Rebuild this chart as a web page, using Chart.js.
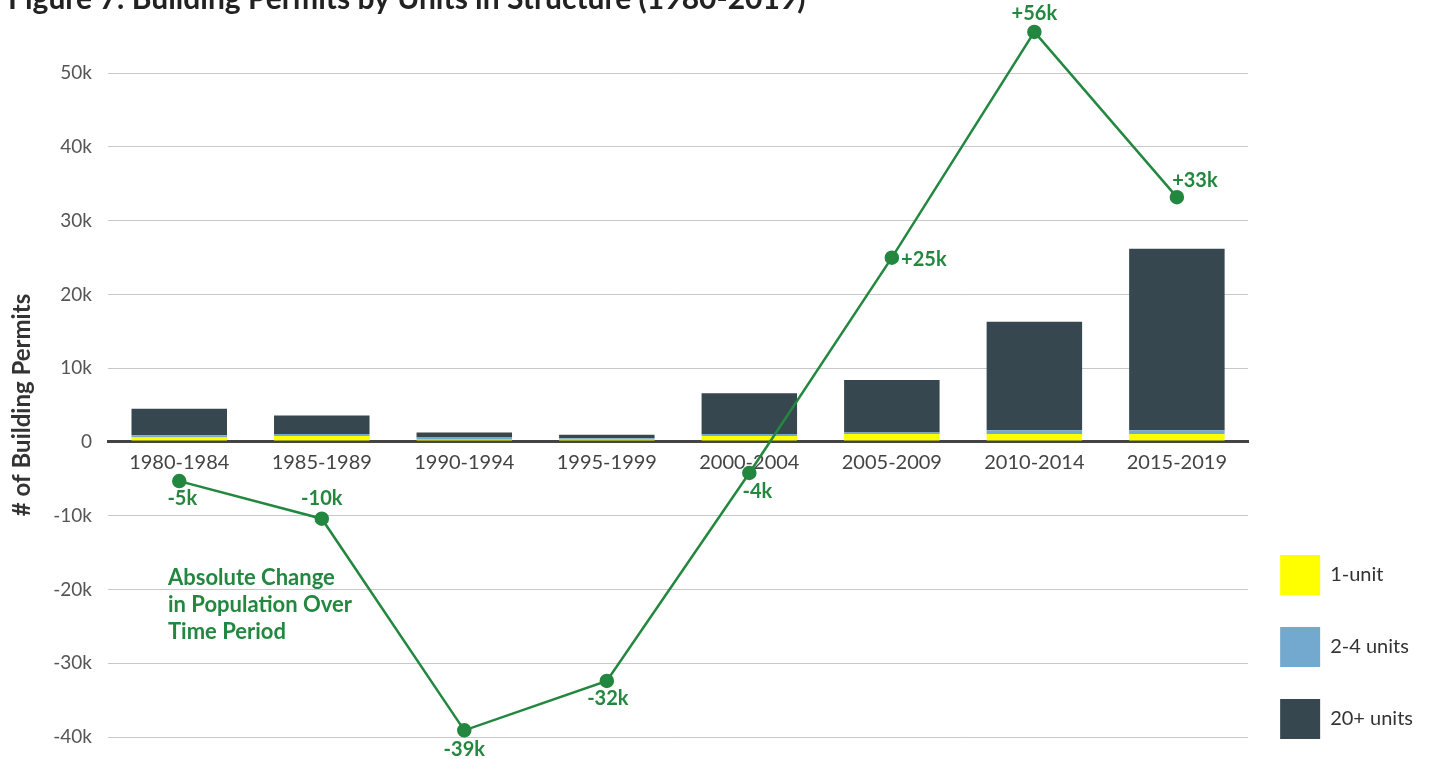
<!DOCTYPE html>
<html>
<head>
<meta charset="utf-8">
<script src="https://cdn.jsdelivr.net/npm/chart.js@4.4.1/dist/chart.umd.min.js"></script>
<style>
  html, body { margin: 0; padding: 0; background: #fff; }
  #wrap { width: 1447px; height: 759px; position: relative; }
</style>
</head>
<body>
<div id="wrap"><canvas id="chart" width="1447" height="759"></canvas></div>
<script>
// data
const periods = ['1980-1984', '1985-1989', '1990-1994', '1995-1999', '2000-2004', '2005-2009', '2010-2014', '2015-2019']
const oneUnit = [600, 800, 300, 300, 800, 1100, 1100, 1100]
const twoToFour = [300, 300, 300, 200, 300, 200, 500, 500]
const twentyPlus = [3600, 2500, 700, 500, 5500, 7100, 14700, 24600]
const popChange = [-5300, -10400, -39100, -32400, -4200, 25000, 55600, 33200]
const yTicks = [-40000, -30000, -20000, -10000, 0, 10000, 20000, 30000, 40000, 50000]

const green = '#23873f'
const fontFam = 'Lato, "Open Sans", sans-serif'

const kLabel = v => v === 0 ? '0' : (v / 1000) + 'k'
const changeLabel = v => (v > 0 ? '+' : '') + Math.round(v / 1000) + 'k'

// extra text drawn on the canvas: title, axis title, annotation, point labels
const labelOffsets = [[3, 17], [0, -20], [0, 19], [1, 18], [8, 19], [32, 2], [0, -18], [18, -17]]
const extras = {
  id: 'extras',
  afterLayout(chart) {
    // push the legend down so it sits at the bottom right like the source
    const lg = chart.legend
    lg.top += 34
    lg.bottom += 34
  },
  afterDatasetsDraw(chart) {
    const ctx = chart.ctx
    const area = chart.chartArea
    ctx.save()
    // figure title, cut by the top edge like the source
    ctx.fillStyle = '#222'
    ctx.font = 'bold 30px ' + fontFam
    ctx.textAlign = 'left'
    ctx.textBaseline = 'alphabetic'
    ctx.fillText('Figure 7: Building Permits by Units in Structure (1980-2019)', 8, 9)

    // y axis title
    ctx.save()
    ctx.translate(22, 405)
    ctx.rotate(-Math.PI / 2)
    ctx.textAlign = 'center'
    ctx.textBaseline = 'middle'
    ctx.font = 'bold 24px ' + fontFam
    ctx.fillStyle = '#333'
    ctx.fillText('# of Building Permits', 0, 0)
    ctx.restore()

    // annotation for the line
    ctx.fillStyle = green
    ctx.font = 'bold 22px ' + fontFam
    ctx.textAlign = 'left'
    ctx.textBaseline = 'middle'
    const y0 = chart.scales.y.getPixelForValue(-18400)
    ;['Absolute Change', 'in Population Over', 'Time Period'].forEach((t, i) => {
      ctx.fillText(t, area.left + 60, y0 + i * 27)
    })

    // point labels
    const meta = chart.getDatasetMeta(3)
    ctx.font = 'bold 20px ' + fontFam
    ctx.textAlign = 'center'
    meta.data.forEach((pt, i) => {
      const [dx, dy] = labelOffsets[i]
      ctx.fillText(changeLabel(popChange[i]), pt.x + dx, pt.y + dy)
    })
    ctx.restore()
  }
}

new Chart(document.getElementById('chart'), {
  type: 'bar',
  data: {
    labels: periods,
    datasets: [
      { label: '1-unit', data: oneUnit, backgroundColor: '#ffff00', order: 1 },
      { label: '2-4 units', data: twoToFour, backgroundColor: '#74a9cf', order: 1 },
      { label: '20+ units', data: twentyPlus, backgroundColor: '#37474f', order: 1 },
      {
        type: 'line', label: 'change', data: popChange, stack: 'line', order: 0,
        borderColor: green, backgroundColor: green, borderWidth: 2.5,
        pointRadius: 6, pointHoverRadius: 6, clip: false
      }
    ]
  },
  plugins: [extras],
  options: {
    responsive: false,
    animation: false,
    devicePixelRatio: 1,
    layout: { padding: { top: 29, bottom: 22, left: 0, right: 24 } },
    datasets: { bar: { barPercentage: 0.67, categoryPercentage: 1 } },
    plugins: {
      tooltip: { enabled: false },
      legend: {
        position: 'right',
        align: 'end',
        labels: {
          filter: item => item.datasetIndex < 3,
          boxWidth: 40, boxHeight: 40, padding: 32,
          color: '#333',
          font: { family: fontFam, size: 20 }
        }
      }
    },
    scales: {
      x: {
        stacked: true,
        position: { y: 0 },
        grid: { display: false },
        border: { color: '#444', width: 3 },
        ticks: { color: '#444', font: { family: fontFam, size: 20 }, padding: 1 }
      },
      y: {
        stacked: true,
        min: -40000,
        max: 56000,
        afterBuildTicks: s => { s.ticks = yTicks.map(v => ({ value: v })) },
        afterFit: s => {
          s.width = 108
          s.paddingTop = 0
          s.paddingBottom = 0
        },
        border: { display: false },
        grid: {
          drawTicks: false,
          color: c => c.tick && c.tick.value === 0 ? '#444' : '#c8c8c8',
          lineWidth: c => c.tick && c.tick.value === 0 ? 3 : 1
        },
        ticks: {
          color: '#555', padding: 16,
          font: { family: fontFam, size: 19 },
          callback: v => kLabel(v)
        }
      }
    }
  }
})
</script>
</body>
</html>
